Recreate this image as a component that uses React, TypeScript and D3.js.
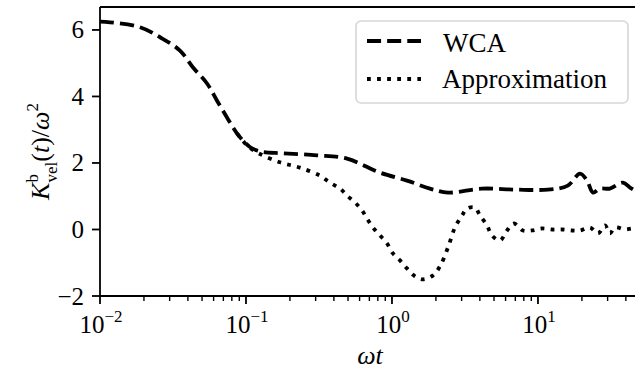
import React from "react";
import * as d3 from "d3";

// WCA reference curve
const wcaT = [0.01, 0.0117, 0.0188, 0.0258, 0.0353, 0.0434, 0.0541, 0.0632, 0.0741, 0.0867, 0.1, 0.1064, 0.118, 0.1306, 0.179, 0.306, 0.492, 0.828, 1.267, 1.82, 2.42, 4.13, 6.95, 11.7, 16.0, 19.4, 21.7, 23.8, 26.6, 31.1, 38.2, 42.7, 46.1];
const wcaK = [6.25, 6.23, 6.08, 5.78, 5.38, 4.87, 4.39, 3.88, 3.37, 2.89, 2.58, 2.48, 2.38, 2.33, 2.29, 2.23, 2.13, 1.71, 1.47, 1.23, 1.11, 1.23, 1.2, 1.2, 1.32, 1.68, 1.47, 1.11, 1.23, 1.23, 1.41, 1.26, 1.17];

// Approximation curve
const apT = [0.0867, 0.1, 0.1064, 0.1247, 0.171, 0.234, 0.321, 0.376, 0.441, 0.492, 0.559, 0.624, 0.675, 0.741, 0.828, 0.925, 1.016, 1.135, 1.267, 1.438, 1.63, 1.91, 2.13, 2.42, 2.7, 3.02, 3.26, 3.7, 4.01, 4.48, 4.84, 5.49, 6.14, 6.85, 7.89, 9.1, 10.6, 12.5, 14.6, 17.1, 19.4, 22.7, 25.8, 28.8, 31.1, 33.7, 39.4, 44.0, 46.1];
const apK = [2.89, 2.56, 2.45, 2.27, 2.02, 1.86, 1.62, 1.41, 1.23, 1.02, 0.81, 0.57, 0.33, 0.06, -0.18, -0.42, -0.72, -0.93, -1.17, -1.41, -1.5, -1.38, -1.11, -0.54, 0.06, 0.42, 0.63, 0.66, 0.42, 0.12, -0.18, -0.33, -0.03, 0.18, -0.03, -0.03, 0.03, 0.0, 0.0, -0.03, -0.03, 0.06, -0.12, 0.12, -0.12, 0.06, 0.0, 0.03, 0.03];

const yTicks = [-2, 0, 2, 4, 6];
const xDecades = [-2, -1, 0, 1];
const seriesNames = ["WCA", "Approximation"];

const W = 635;
const H = 372;
const plot = { left: 100, top: 7, right: 640, bottom: 296 };
const FONT = "'Liberation Serif', 'Times New Roman', serif";

export default function App() {
  const x = d3.scaleLog().domain([0.01, 50]).range([plot.left, plot.right]);
  const y = d3.scaleLinear().domain([-2, 6.69]).range([plot.bottom, plot.top]);

  const line = d3
    .line<[number, number]>()
    .x((d) => x(d[0]))
    .y((d) => y(d[1]))
    .curve(d3.curveCatmullRom.alpha(0.5));

  const wca = line(wcaT.map((t, i) => [t, wcaK[i]] as [number, number])) || "";
  const ap = line(apT.map((t, i) => [t, apK[i]] as [number, number])) || "";

  const minor: number[] = [];
  for (const e of [-2, -1, 0, 1]) {
    for (let m = 2; m <= 9; m++) {
      const v = m * Math.pow(10, e);
      if (v <= 50) minor.push(v);
    }
  }

  const lw = 3.8;
  const dashed = `${3.7 * lw},${1.6 * lw}`;
  const dotted = `${1 * lw},${1.65 * lw}`;

  return (
    <svg
      width={W}
      height={H}
      style={{ position: "absolute", left: 0, top: 0, background: "#fff" }}
      fontFamily={FONT}
    >
      <defs>
        <clipPath id="plotArea">
          <rect x={plot.left} y={plot.top} width={plot.right - plot.left} height={plot.bottom - plot.top} />
        </clipPath>
      </defs>

      <g clipPath="url(#plotArea)" fill="none" stroke="#000">
        <path d={wca} strokeWidth={lw} strokeDasharray={dashed} />
        <path d={ap} strokeWidth={lw} strokeDasharray={dotted} />
      </g>

      {/* spines */}
      <g stroke="#000" strokeWidth={1.8} fill="none">
        <line x1={plot.left} x2={plot.left} y1={plot.top} y2={plot.bottom} />
        <line x1={plot.left} x2={plot.right} y1={plot.bottom} y2={plot.bottom} />
        <line x1={plot.left} x2={plot.right} y1={plot.top} y2={plot.top} />
        <line x1={plot.right} x2={plot.right} y1={plot.top} y2={plot.bottom} />
      </g>

      {/* y axis */}
      {yTicks.map((v) => (
        <g key={v}>
          <line x1={plot.left - 8} x2={plot.left} y1={y(v)} y2={y(v)} stroke="#000" strokeWidth={1.8} />
          <text x={plot.left - 16} y={y(v) + 8.5} fontSize={25} textAnchor="end" fill="#000">
            {v < 0 ? `\u2212${Math.abs(v)}` : `${v}`}
          </text>
        </g>
      ))}

      {/* x axis */}
      {minor.map((v) => (
        <line key={v} x1={x(v)} x2={x(v)} y1={plot.bottom} y2={plot.bottom + 5} stroke="#000" strokeWidth={1.4} />
      ))}
      {xDecades.map((e) => {
        const px = x(Math.pow(10, e));
        return (
          <g key={e}>
            <line x1={px} x2={px} y1={plot.bottom} y2={plot.bottom + 8} stroke="#000" strokeWidth={1.8} />
            <text x={px + 1} y={333} fontSize={25} textAnchor="middle" fill="#000">
              10
              <tspan fontSize={17} dy={-11}>
                {e < 0 ? `\u2212${Math.abs(e)}` : `${e}`}
              </tspan>
            </text>
          </g>
        );
      })}

      {/* axis labels */}
      <text x={(plot.left + plot.right) / 2} y={364} fontSize={26} textAnchor="middle" fontStyle="italic" fill="#000">
        ωt
      </text>
      <text
        transform={`translate(49, ${(plot.top + plot.bottom) / 2}) rotate(-90)`}
        fontSize={26}
        textAnchor="middle"
        fill="#000"
      >
        <tspan fontStyle="italic">K</tspan>
        <tspan fontSize={17} dy={-11}>b</tspan>
        <tspan fontSize={17} dx={-8.5} dy={19}>vel</tspan>
        <tspan dy={-8}>(</tspan>
        <tspan fontStyle="italic">t</tspan>
        <tspan>)/</tspan>
        <tspan fontStyle="italic">ω</tspan>
        <tspan fontSize={17} dy={-11}>2</tspan>
      </text>

      {/* legend */}
      <g>
        <rect x={356} y={21} width={272} height={82} rx={5} fill="#fff" fillOpacity={0.8} stroke="#d6d6d6" strokeWidth={1.6} />
        <line x1={367} x2={421} y1={41} y2={41} stroke="#000" strokeWidth={lw} strokeDasharray={dashed} />
        <text x={443} y={52} fontSize={27} fill="#000">{seriesNames[0]}</text>
        <line x1={367} x2={421} y1={79} y2={79} stroke="#000" strokeWidth={lw} strokeDasharray={dotted} />
        <text x={442} y={88} fontSize={27} fill="#000">{seriesNames[1]}</text>
      </g>
    </svg>
  );
}
